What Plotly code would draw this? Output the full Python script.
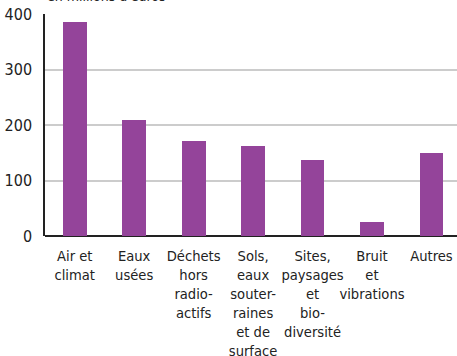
import plotly.graph_objects as go

# Dépenses par domaine, en millions d'euros
categories = [
    "Air et<br>climat",
    "Eaux<br>usées",
    "Déchets<br>hors<br>radio-<br>actifs",
    "Sols,<br>eaux<br>souter-<br>raines<br>et de<br>surface",
    "Sites,<br>paysages<br>et<br>bio-<br>diversité",
    "Bruit<br>et<br>vibrations",
    "Autres",
]
values = [386, 209, 171, 162, 137, 25, 149]
y_ticks = [0, 100, 200, 300, 400]

FONT = "DejaVu Sans Condensed, Liberation Sans Narrow, Arial Narrow, sans-serif"
BAR_COLOR = "#94449a"

fig = go.Figure(
    go.Bar(
        x=list(range(len(categories))),
        y=values,
        marker=dict(color=BAR_COLOR, line=dict(width=0)),
        width=0.4,
    )
)

fig.update_layout(
    width=457,
    height=356,
    margin=dict(l=45, r=0, t=14, b=120, autoexpand=False),
    paper_bgcolor="white",
    plot_bgcolor="white",
    font=dict(family=FONT, size=14, color="#222222"),
    showlegend=False,
    bargap=0,
)

fig.update_xaxes(
    range=[-0.5, 6.43],
    tickmode="array",
    tickvals=list(range(len(categories))),
    ticktext=categories,
    tickangle=0,
    automargin=False,
    showgrid=False,
    showline=False,
    ticks="",
    zeroline=False,
    ticklabelstandoff=9,
    tickfont=dict(family=FONT, size=14.6, color="#222222"),
)

fig.update_yaxes(
    range=[0, 400],
    tickmode="array",
    tickvals=y_ticks,
    automargin=False,
    showgrid=True,
    gridcolor="#cccccc",
    gridwidth=1.5,
    showline=True,
    linecolor="#222222",
    linewidth=1.5,
    zeroline=True,
    zerolinecolor="#222222",
    zerolinewidth=2,
    ticks="",
    ticklabelstandoff=8,
    tickfont=dict(family=FONT, size=16, color="#222222"),
)

fig.add_annotation(
    text="en millions d'euros",
    xref="paper",
    yref="paper",
    x=0,
    y=1.035,
    xanchor="left",
    yanchor="bottom",
    showarrow=False,
    font=dict(family=FONT, size=14, color="#222222"),
)

fig.write_html("out.html")
